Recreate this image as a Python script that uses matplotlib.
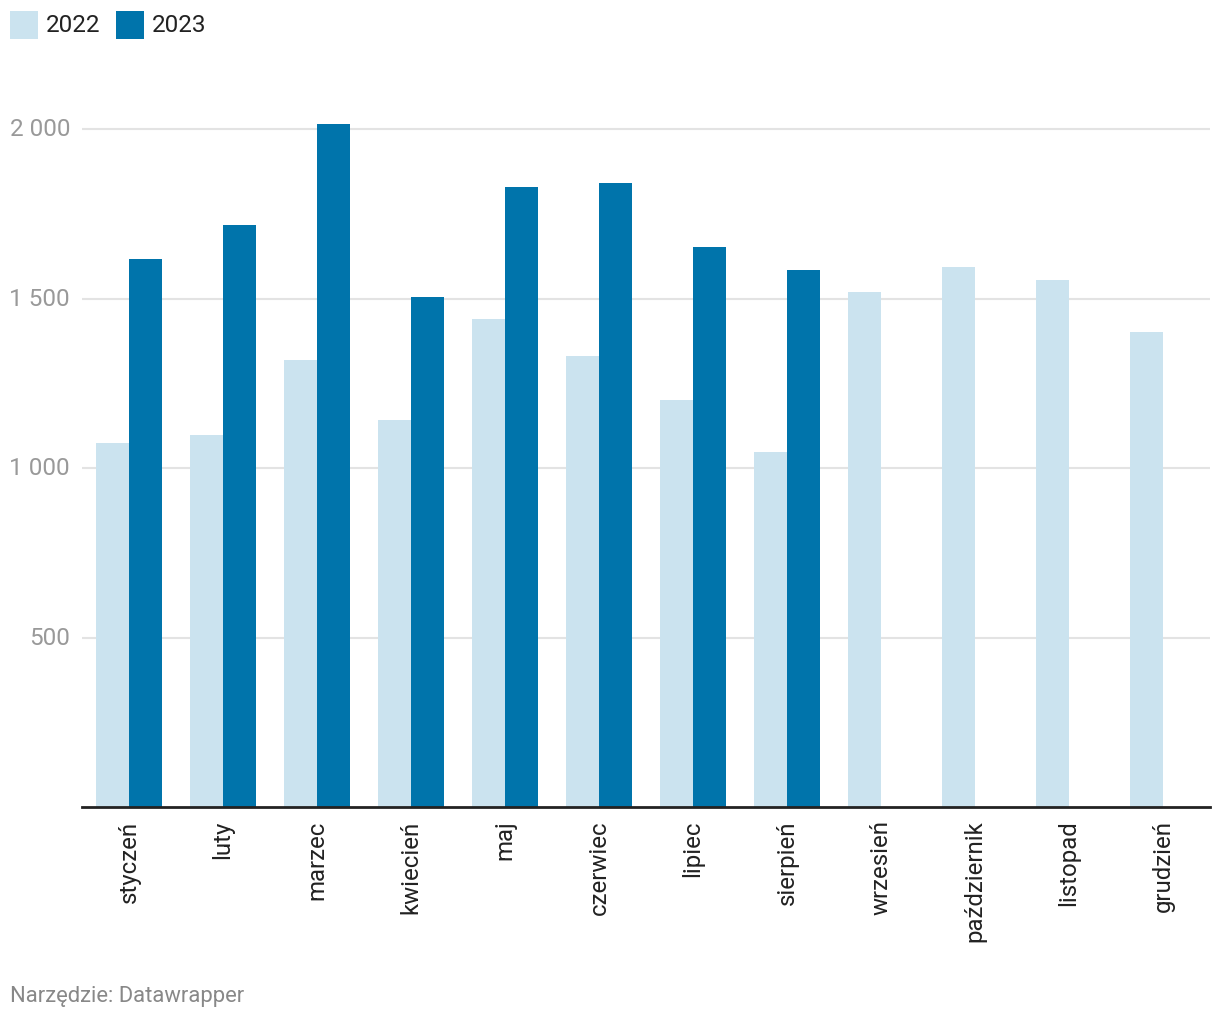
import matplotlib
matplotlib.use("Agg")
import matplotlib.pyplot as plt
from matplotlib.patches import Rectangle
import numpy as np

plt.rcParams['font.family'] = ['Roboto', 'DejaVu Sans']

months = ["styczeń", "luty", "marzec", "kwiecień", "maj", "czerwiec",
          "lipiec", "sierpień", "wrzesień", "październik", "listopad", "grudzień"]
series_names = ["2022", "2023"]
values_2022 = [1074, 1097, 1319, 1142, 1440, 1330, 1201, 1047, 1519, 1593, 1555, 1401]
values_2023 = [1617, 1717, 2015, 1504, 1829, 1841, 1652, 1584]
yticks = [500, 1000, 1500, 2000]
ytick_labels = ["500", "1 000", "1 500", "2 000"]
colors = ["#cbe3ef", "#0074ab"]
footer = "Narzędzie: Datawrapper"

W, H = 1220, 1020
fig = plt.figure(figsize=(W / 100, H / 100), dpi=100)
ax_left, ax_right, ax_bottom, ax_top = 82, 1210, 808, 101
ax = fig.add_axes([ax_left / W, 1 - ax_bottom / H, (ax_right - ax_left) / W, (ax_bottom - ax_top) / H])

y2000 = 130
ymax = (ax_bottom - ax_top) / (ax_bottom - y2000) * 2000
ax.set_ylim(0, ymax)
ax.set_xlim(-0.5, 11.5)

bw = 33 / 94
x = np.arange(len(months))
ax.bar(x[:len(values_2022)] - bw / 2, values_2022, width=bw, color=colors[0], zorder=2, linewidth=0)
ax.bar(x[:len(values_2023)] + bw / 2, values_2023, width=bw, color=colors[1], zorder=2, linewidth=0, clip_on=False)

for t in yticks:
    ax.axhline(t, color="#e3e3e3", linewidth=1.5, zorder=1)
ax.axhline(0, color="#222222", linewidth=2, zorder=3, clip_on=False)

for s in ax.spines.values():
    s.set_visible(False)

ax.set_yticks([])
for t, lab in zip(yticks, ytick_labels):
    fig.text(70 / W, 1 - (ax_bottom - t * (ax_bottom - y2000) / 2000) / H, lab,
             ha="right", va="center", fontsize=17.5, color="#999999")

ax.set_xticks(x)
ax.set_xticklabels(months, rotation=90, fontsize=17.3, color="#222222", va="top", ha="center")
ax.tick_params(axis="x", length=0, pad=9)

# legend
lx = 10
for name, c in zip(series_names, colors):
    fig.patches.append(Rectangle((lx / W, 1 - 40 / H), 28 / W, 28 / H, transform=fig.transFigure,
                                 facecolor=c, edgecolor="none"))
    fig.text((lx + 36) / W, 1 - 26 / H, name, ha="left", va="center", fontsize=17.5, color="#222222")
    lx += 106

fig.text(10 / W, 1 - 997 / H, footer, ha="left", va="center", fontsize=15.8, color="#888888")

fig.savefig("out.png", dpi=100)
